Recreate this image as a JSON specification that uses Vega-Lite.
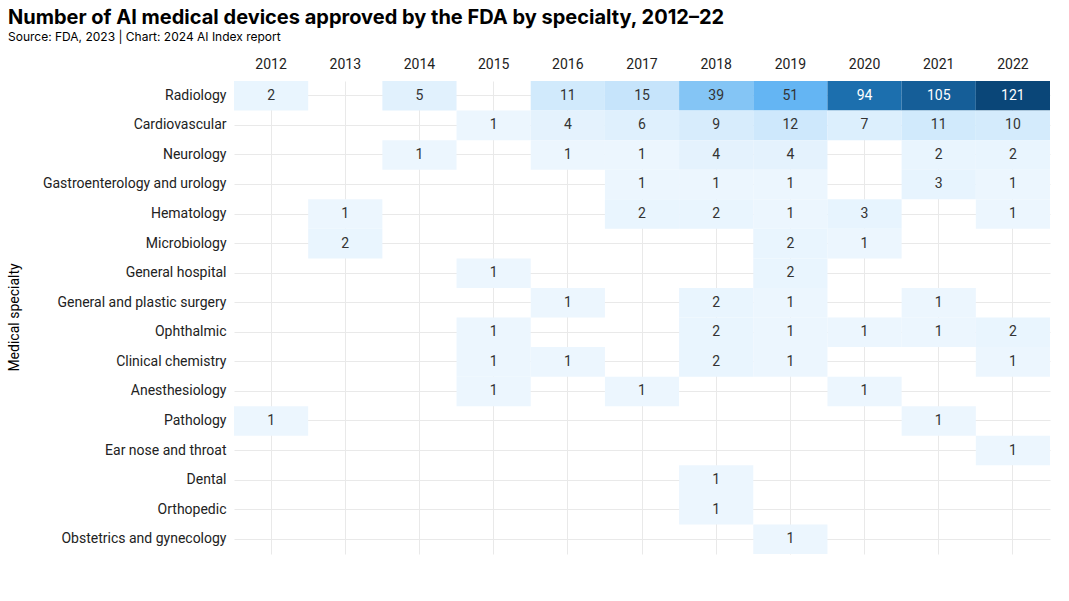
{
  "$schema": "https://vega.github.io/schema/vega-lite/v6.json",
  "autosize": {"type": "none"},
  "width": 816,
  "height": 473,
  "padding": {"left": 234, "top": 81, "right": 19, "bottom": 47},
  "background": "white",
  "config": {
    "font": "Roboto",
    "view": {"stroke": null}
  },
  "title": {
    "text": "Number of AI medical devices approved by the FDA by specialty, 2012–22",
    "subtitle": "Source: FDA, 2023 | Chart: 2024 AI Index report",
    "anchor": "start",
    "frame": "group",
    "dx": -226,
    "font": "Inter",
    "subtitleFont": "Inter",
    "fontSize": 20,
    "fontWeight": "bold",
    "color": "#000000",
    "subtitleFontSize": 12,
    "subtitleColor": "#000000",
    "subtitlePadding": 4,
    "offset": 14
  },
  "data": {
    "values": [
      {"specialty": "Radiology", "year": "2012", "count": 2},
      {"specialty": "Radiology", "year": "2014", "count": 5},
      {"specialty": "Radiology", "year": "2016", "count": 11},
      {"specialty": "Radiology", "year": "2017", "count": 15},
      {"specialty": "Radiology", "year": "2018", "count": 39},
      {"specialty": "Radiology", "year": "2019", "count": 51},
      {"specialty": "Radiology", "year": "2020", "count": 94},
      {"specialty": "Radiology", "year": "2021", "count": 105},
      {"specialty": "Radiology", "year": "2022", "count": 121},
      {"specialty": "Cardiovascular", "year": "2015", "count": 1},
      {"specialty": "Cardiovascular", "year": "2016", "count": 4},
      {"specialty": "Cardiovascular", "year": "2017", "count": 6},
      {"specialty": "Cardiovascular", "year": "2018", "count": 9},
      {"specialty": "Cardiovascular", "year": "2019", "count": 12},
      {"specialty": "Cardiovascular", "year": "2020", "count": 7},
      {"specialty": "Cardiovascular", "year": "2021", "count": 11},
      {"specialty": "Cardiovascular", "year": "2022", "count": 10},
      {"specialty": "Neurology", "year": "2014", "count": 1},
      {"specialty": "Neurology", "year": "2016", "count": 1},
      {"specialty": "Neurology", "year": "2017", "count": 1},
      {"specialty": "Neurology", "year": "2018", "count": 4},
      {"specialty": "Neurology", "year": "2019", "count": 4},
      {"specialty": "Neurology", "year": "2021", "count": 2},
      {"specialty": "Neurology", "year": "2022", "count": 2},
      {"specialty": "Gastroenterology and urology", "year": "2017", "count": 1},
      {"specialty": "Gastroenterology and urology", "year": "2018", "count": 1},
      {"specialty": "Gastroenterology and urology", "year": "2019", "count": 1},
      {"specialty": "Gastroenterology and urology", "year": "2021", "count": 3},
      {"specialty": "Gastroenterology and urology", "year": "2022", "count": 1},
      {"specialty": "Hematology", "year": "2013", "count": 1},
      {"specialty": "Hematology", "year": "2017", "count": 2},
      {"specialty": "Hematology", "year": "2018", "count": 2},
      {"specialty": "Hematology", "year": "2019", "count": 1},
      {"specialty": "Hematology", "year": "2020", "count": 3},
      {"specialty": "Hematology", "year": "2022", "count": 1},
      {"specialty": "Microbiology", "year": "2013", "count": 2},
      {"specialty": "Microbiology", "year": "2019", "count": 2},
      {"specialty": "Microbiology", "year": "2020", "count": 1},
      {"specialty": "General hospital", "year": "2015", "count": 1},
      {"specialty": "General hospital", "year": "2019", "count": 2},
      {"specialty": "General and plastic surgery", "year": "2016", "count": 1},
      {"specialty": "General and plastic surgery", "year": "2018", "count": 2},
      {"specialty": "General and plastic surgery", "year": "2019", "count": 1},
      {"specialty": "General and plastic surgery", "year": "2021", "count": 1},
      {"specialty": "Ophthalmic", "year": "2015", "count": 1},
      {"specialty": "Ophthalmic", "year": "2018", "count": 2},
      {"specialty": "Ophthalmic", "year": "2019", "count": 1},
      {"specialty": "Ophthalmic", "year": "2020", "count": 1},
      {"specialty": "Ophthalmic", "year": "2021", "count": 1},
      {"specialty": "Ophthalmic", "year": "2022", "count": 2},
      {"specialty": "Clinical chemistry", "year": "2015", "count": 1},
      {"specialty": "Clinical chemistry", "year": "2016", "count": 1},
      {"specialty": "Clinical chemistry", "year": "2018", "count": 2},
      {"specialty": "Clinical chemistry", "year": "2019", "count": 1},
      {"specialty": "Clinical chemistry", "year": "2022", "count": 1},
      {"specialty": "Anesthesiology", "year": "2015", "count": 1},
      {"specialty": "Anesthesiology", "year": "2017", "count": 1},
      {"specialty": "Anesthesiology", "year": "2020", "count": 1},
      {"specialty": "Pathology", "year": "2012", "count": 1},
      {"specialty": "Pathology", "year": "2021", "count": 1},
      {"specialty": "Ear nose and throat", "year": "2022", "count": 1},
      {"specialty": "Dental", "year": "2018", "count": 1},
      {"specialty": "Orthopedic", "year": "2018", "count": 1},
      {"specialty": "Obstetrics and gynecology", "year": "2019", "count": 1}
    ]
  },
  "encoding": {
    "x": {
      "field": "year",
      "type": "ordinal",
      "scale": {
        "domain": ["2012","2013","2014","2015","2016","2017","2018","2019","2020","2021","2022"],
        "paddingInner": 0,
        "paddingOuter": 0
      },
      "axis": {
        "orient": "top",
        "title": null,
        "labelAngle": 0,
        "labelFontSize": 14,
        "labelColor": "#222222",
        "labelPadding": 10,
        "domain": false,
        "ticks": false,
        "grid": true,
        "gridColor": "#e9e9e9",
        "gridWidth": 1,
        "bandPosition": 0.5,
        "zindex": 0
      }
    },
    "y": {
      "field": "specialty",
      "type": "nominal",
      "scale": {
        "domain": ["Radiology","Cardiovascular","Neurology","Gastroenterology and urology","Hematology","Microbiology","General hospital","General and plastic surgery","Ophthalmic","Clinical chemistry","Anesthesiology","Pathology","Ear nose and throat","Dental","Orthopedic","Obstetrics and gynecology"],
        "paddingInner": 0,
        "paddingOuter": 0
      },
      "axis": {
        "title": "Medical specialty",
        "titleFontSize": 14,
        "titleFontWeight": "normal",
        "titleColor": "#000000",
        "titleX": -220,
        "titleY": 236,
        "titleAngle": -90,
        "titleAlign": "center",
        "titleBaseline": "middle",
        "labelFontSize": 14,
        "labelColor": "#222222",
        "labelPadding": 8,
        "labelLimit": 0,
        "domain": false,
        "ticks": false,
        "grid": true,
        "gridColor": "#e9e9e9",
        "gridWidth": 1,
        "bandPosition": 0.5,
        "zindex": 0
      }
    }
  },
  "layer": [
    {
      "mark": {"type": "rect"},
      "encoding": {
        "color": {
          "field": "count",
          "type": "quantitative",
          "legend": null,
          "scale": {
            "domain": [1, 10, 39, 51, 94, 121],
            "range": ["#ecf6fe", "#d4ebfc", "#84c5f5", "#64b5f3", "#1c6fae", "#0a4678"],
            "interpolate": "rgb"
          }
        }
      }
    },
    {
      "mark": {"type": "text", "fontSize": 14, "baseline": "middle", "align": "center"},
      "encoding": {
        "text": {"field": "count", "type": "quantitative"},
        "color": {
          "condition": {"test": "datum.count >= 90", "value": "#ffffff"},
          "value": "#333333"
        }
      }
    }
  ]
}
